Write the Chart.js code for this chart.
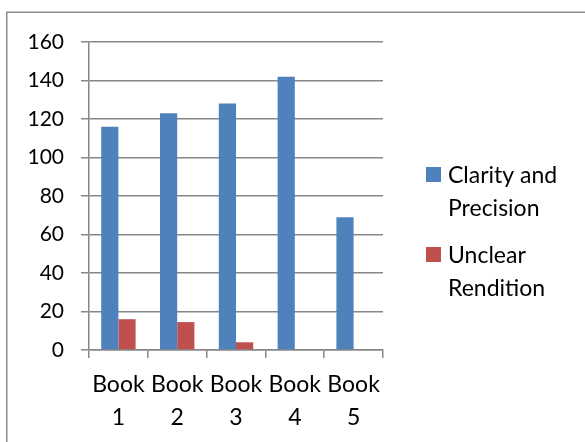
<!DOCTYPE html>
<html>
<head>
<meta charset="utf-8">
<title>Book ratings</title>
<script src="https://cdn.jsdelivr.net/npm/chart.js@4.4.1/dist/chart.umd.min.js"></script>
<style>
  html, body { margin: 0; padding: 0; background: #ffffff; }
  canvas { display: block; }
</style>
</head>
<body>
<canvas id="chart" width="585" height="442"></canvas>
<script>
// Category labels (two lines each) and series values
const categories = [["Book", "1"], ["Book", "2"], ["Book", "3"], ["Book", "4"], ["Book", "5"]];
const clarityValues = [116, 123, 128, 142, 69];
const unclearValues = [16, 14.5, 4, 0, 0];
const seriesNames = [["Clarity and", "Precision"], ["Unclear", "Rendition"]];
const yTicks = [0, 20, 40, 60, 80, 100, 120, 140, 160];

const FONT = "Lato, 'Open Sans', sans-serif";
const GRID = "#878787";

// Frame line around the chart (left and top edges visible)
const framePlugin = {
  id: "frame",
  beforeDraw(chart) {
    const ctx = chart.ctx;
    ctx.save();
    ctx.strokeStyle = "#8a8a8a";
    ctx.lineWidth = 1.5;
    ctx.beginPath();
    ctx.moveTo(6.75, 442);
    ctx.lineTo(6.75, 12.25);
    ctx.lineTo(585, 12.25);
    ctx.stroke();
    ctx.restore();
  }
};

// Legend on the right with wrapped series names
const sideLegend = {
  id: "sideLegend",
  afterDraw(chart) {
    const ctx = chart.ctx;
    const boxX = 426, textX = 448;
    const firstBaselines = [183, 263];
    ctx.save();
    ctx.font = "23px " + FONT;
    ctx.textBaseline = "alphabetic";
    ctx.textAlign = "left";
    chart.data.datasets.forEach((ds, i) => {
      const base = firstBaselines[i];
      ctx.fillStyle = ds.backgroundColor;
      ctx.fillRect(boxX, base - 16, 15, 15);
      ctx.fillStyle = "#000000";
      ds.label.forEach((line, j) => {
        ctx.fillText(line, textX, base + j * 32.5);
      });
    });
    ctx.restore();
  }
};

new Chart(document.getElementById("chart"), {
  type: "bar",
  data: {
    labels: categories,
    datasets: [
      { label: seriesNames[0], data: clarityValues, backgroundColor: "#4F81BD" },
      { label: seriesNames[1], data: unclearValues, backgroundColor: "#C0504D" }
    ]
  },
  options: {
    responsive: false,
    animation: false,
    devicePixelRatio: 1,
    layout: { padding: { top: 42, right: 202, bottom: 0, left: 0 } },
    datasets: { bar: { categoryPercentage: 0.585, barPercentage: 1.0 } },
    plugins: {
      legend: { display: false },
      tooltip: { enabled: false }
    },
    scales: {
      x: {
        grid: {
          display: true,
          drawOnChartArea: false,
          drawTicks: true,
          tickLength: 8,
          color: GRID,
          lineWidth: 1.5,
          offset: true
        },
        border: { display: true, color: GRID, width: 1.5 },
        ticks: {
          color: "#000000",
          font: { family: FONT, size: 23, lineHeight: 1.435 },
          padding: 10,
          maxRotation: 0,
          autoSkip: false
        },
        afterFit(scale) { scale.height = 92; }
      },
      y: {
        min: 0,
        max: 160,
        afterBuildTicks(scale) { scale.ticks = yTicks.map(v => ({ value: v })); },
        grid: {
          color: GRID,
          lineWidth: 1.5,
          drawTicks: true,
          tickLength: 8
        },
        border: { display: true, color: GRID, width: 1.5 },
        ticks: {
          color: "#000000",
          font: { family: FONT, size: 21 },
          padding: 17
        },
        afterFit(scale) { scale.width = 89; }
      }
    }
  },
  plugins: [framePlugin, sideLegend]
});
</script>
</body>
</html>
